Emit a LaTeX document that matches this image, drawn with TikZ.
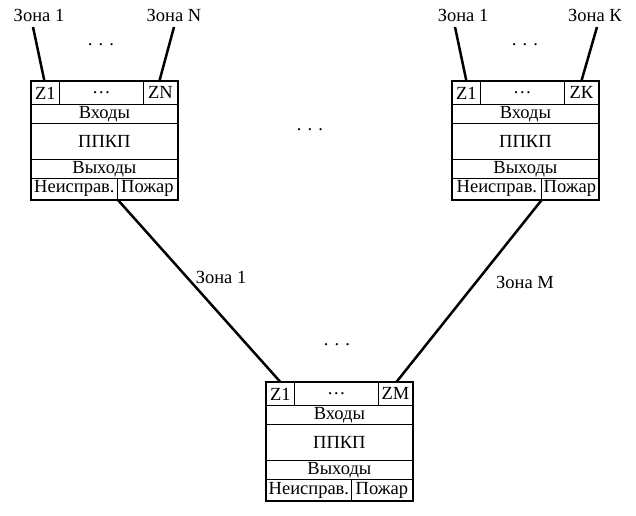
\documentclass[tikz,border=0pt]{standalone}
\usepackage{fontspec}
\setmainfont{Liberation Serif}
\tikzset{
  cell/.style={draw, line width=0.8pt, inner sep=0pt, anchor=north west, minimum height=23pt, font=\fontsize{18.5}{20}\selectfont},
  outerbox/.style={draw, line width=1.6pt},
  wire/.style={line width=2.5pt},
  lbl/.style={inner sep=0pt, font=\fontsize{18.5}{20}\selectfont},
}
\newcommand\ppkpblock[5]{%
\begin{scope}[shift={(#2,#3)}]
\node[cell, minimum width=28pt] (#1-z1) at (0,0) {Z1};
\node[cell, minimum width=84pt] (#1-dots) at (28,0) {…};
\node[cell, minimum width=34pt] (#1-zl) at (112,0) {#4};
\node[cell, minimum width=146pt, minimum height=19pt] (#1-in) at (0,23) {Входы};
\node[cell, minimum width=146pt, minimum height=36pt] (#1-main) at (0,42) {ППКП};
\node[cell, minimum width=146pt, minimum height=19pt] (#1-out) at (0,78) {Выходы};
\node[cell, minimum width=#5pt, minimum height=21pt] (#1-fault) at (0,97) {Неисправ.};
\node[cell, minimum width={(146-#5)*1pt}, minimum height=21pt] (#1-fire) at (#5,97) {Пожар};
\draw[outerbox] (#1-z1.north west) rectangle (#1-fire.south east);
\end{scope}}
\begin{document}
\begin{tikzpicture}[x=1pt,y=-1pt]
\useasboundingbox (0,0) rectangle (636,515);
\ppkpblock{A}{31}{81}{ZN}{86}
\ppkpblock{B}{452}{81}{ZК}{89}
\ppkpblock{C}{266}{382}{ZМ}{85}
% top labels
\node[lbl] (la1) at (39,15) {Зона 1};
\node[lbl] (laN) at (174,15) {Зона N};
\node[lbl] (lb1) at (463,15) {Зона 1};
\node[lbl] (lbK) at (595,15) {Зона К};
\coordinate (wa1) at (33,27);
\coordinate (waN) at (174,27);
\coordinate (wb1) at (455,27);
\coordinate (wbK) at (597,27);
\draw[wire] (wa1) -- ([xshift=-1pt]A-z1.north);
\draw[wire] (waN) -- ([xshift=-1pt]A-zl.north);
\draw[wire] (wb1) -- (B-z1.north);
\draw[wire] (wbK) -- (B-zl.north);
\draw[wire] (A-fault.south east) -- (C-z1.north);
\draw[wire] (B-fault.south east) -- ([xshift=1pt]C-zl.north);
% dots
\node[lbl] (d1) at (101,45) {. . .};
\node[lbl] (d2) at (525,45) {. . .};
\node[lbl] (d3) at (310,130) {. . .};
\node[lbl] (d4) at (337,345) {. . .};
% middle labels
\node[lbl] (lm1) at (221,277) {Зона 1};
\node[lbl] (lmM) at (525,282) {Зона М};
\end{tikzpicture}
\end{document}
